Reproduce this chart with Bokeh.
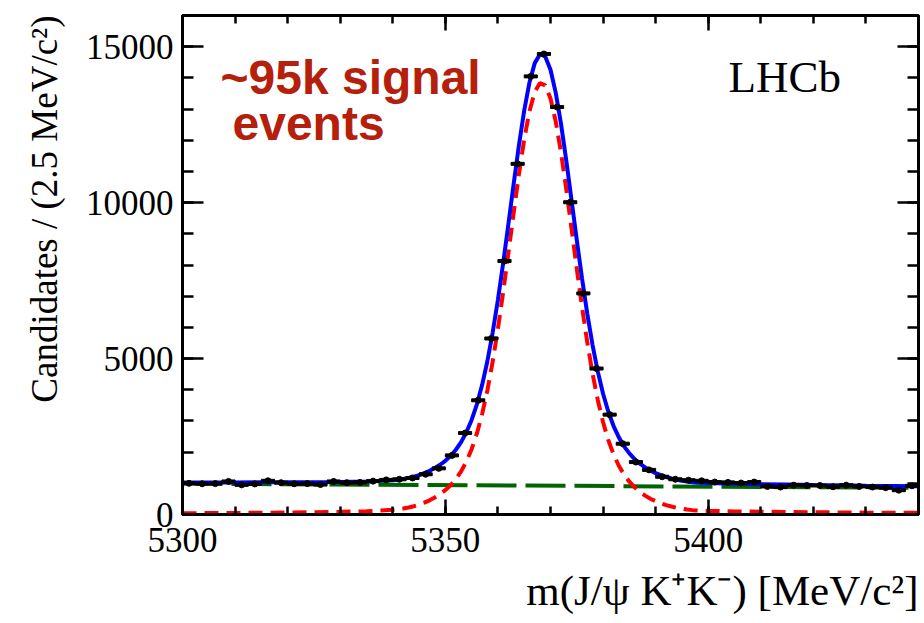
from bokeh.plotting import figure
from bokeh.models import (Range1d, LinearAxis, SingleIntervalTicker, Label, Title,
                          CustomLabelingPolicy)
from bokeh.embed import file_html
from bokeh.resources import INLINE

# ---------------- data ----------------
bin_centers = [5301.25, 5303.75, 5306.25, 5308.75, 5311.25, 5313.75, 5316.25, 5318.75,
               5321.25, 5323.75, 5326.25, 5328.75, 5331.25, 5333.75, 5336.25, 5338.75,
               5341.25, 5343.75, 5346.25, 5348.75, 5351.25, 5353.75, 5356.25, 5358.75,
               5361.25, 5363.75, 5366.25, 5368.75, 5371.25, 5373.75, 5376.25, 5378.75,
               5381.25, 5383.75, 5386.25, 5388.75, 5391.25, 5393.75, 5396.25, 5398.75,
               5401.25, 5403.75, 5406.25, 5408.75, 5411.25, 5413.75, 5416.25, 5418.75,
               5421.25, 5423.75, 5426.25, 5428.75, 5431.25, 5433.75, 5436.25, 5438.75]
counts = [1000, 985, 990, 1060, 950, 980, 1080, 1020,
          985, 990, 960, 1060, 1020, 1030, 1070, 1110,
          1130, 1170, 1290, 1480, 1895, 2612, 3662, 5644,
          8127, 11243, 14048, 14767, 13065, 10013, 7089, 4680,
          3202, 2270, 1681, 1430, 1210, 1130, 1100, 1080,
          1040, 1030, 1010, 1040, 900, 880, 940, 930,
          930, 890, 940, 900, 880, 860, 780, 920]

fit_mass = [5300, 5305, 5310, 5315, 5320, 5325, 5330, 5335,
            5340, 5341, 5342, 5343, 5344, 5345, 5346, 5347, 5348, 5349,
            5350, 5351, 5352, 5353, 5354, 5355, 5356, 5357, 5358, 5359,
            5360, 5361, 5362, 5363, 5364, 5365, 5366, 5367, 5368, 5369,
            5370, 5371, 5372, 5373, 5374, 5375, 5376, 5377, 5378, 5379,
            5380, 5381, 5382, 5383, 5384, 5385, 5386, 5387, 5388, 5389,
            5390, 5391, 5392, 5393, 5394, 5395, 5396, 5397, 5398,
            5400, 5405, 5410, 5415, 5420, 5425, 5430, 5435, 5440]
fit_signal = [40, 45, 50, 55, 62, 72, 85, 105,
              150, 165, 190, 225, 265, 315, 380, 455, 545, 652,
              780, 940, 1136, 1383, 1697, 2095, 2598, 3223, 3988, 4901,
              5955, 7132, 8391, 9678, 10917, 12027, 12928, 13548, 13834, 13761,
              13338, 12598, 11604, 10432, 9165, 7881, 6649, 5517, 4519, 3666,
              2958, 2383, 1925, 1563, 1277, 1051, 870, 723, 605, 505,
              425, 360, 300, 255, 215, 185, 160, 140, 125,
              115, 100, 88, 80, 72, 66, 60, 56, 52]
fit_total = [1030, 1030, 1030, 1031, 1033, 1038, 1046, 1061,
             1101, 1115, 1140, 1174, 1213, 1262, 1326, 1400, 1489, 1595,
             1722, 1881, 2076, 2322, 2635, 3032, 3534, 4158, 4922, 5834,
             6887, 8063, 9321, 10607, 11845, 12954, 13854, 14473, 14758, 14684,
             14261, 13520, 12525, 11352, 10084, 8799, 7566, 6433, 5434, 4580,
             3871, 3295, 2836, 2473, 2186, 1959, 1777, 1629, 1510, 1409,
             1328, 1262, 1201, 1155, 1114, 1083, 1057, 1036, 1020,
             1009, 989, 972, 959, 946, 936, 925, 916, 907]
bkg_mass = [5300, 5440]
bkg_values = [990, 855]

x_ticks_major = 50
y_ticks_major = 5000

SERIF = "Liberation Serif"

p = figure(width=924, height=623, output_backend="svg", toolbar_location=None,
           x_range=Range1d(5300, 5440), y_range=Range1d(0, 16000),
           x_axis_type=None, y_axis_type=None,
           min_border_left=182, min_border_right=6, min_border_top=15, min_border_bottom=109)
p.background_fill_color = "white"
p.border_fill_color = "white"
p.outline_line_color = "black"
p.outline_line_width = 3


def make_axis(ticker, major_in, minor_in, labels, standoff):
    ax = LinearAxis(ticker=ticker)
    ax.axis_line_width = 3
    ax.axis_line_color = "black"
    ax.major_tick_in = major_in
    ax.major_tick_out = 0
    ax.minor_tick_in = minor_in
    ax.minor_tick_out = 0
    ax.major_tick_line_width = 2.5
    ax.minor_tick_line_width = 2.5
    ax.major_label_text_font = SERIF
    ax.major_label_text_color = "black"
    if labels:
        ax.major_label_text_font_size = "35px"
        ax.major_label_standoff = standoff
    else:
        # mirrored tick marks only: no labels drawn
        ax.major_label_text_font_size = "1px"
        ax.major_label_standoff = 0
        ax.major_label_policy = CustomLabelingPolicy(code="return new Set()")
    return ax


xt = lambda: SingleIntervalTicker(interval=x_ticks_major, num_minor_ticks=5)
yt = lambda: SingleIntervalTicker(interval=y_ticks_major, num_minor_ticks=5)

p.add_layout(make_axis(xt(), 15, 8, True, 13), "below")
p.add_layout(make_axis(xt(), 15, 8, False, 0), "above")
p.add_layout(make_axis(yt(), 21, 11, True, 9), "left")
p.add_layout(make_axis(yt(), 21, 11, False, 0), "right")

# axis titles (ROOT style: aligned to the end of the axis)
p.add_layout(Title(text="Candidates / (2.5 MeV/c²)", align="right", text_font=SERIF,
                   text_font_size="37px", text_font_style="normal", text_color="black",
                   standoff=35), "left")
p.add_layout(Title(text="m(J/ψ K⁺K⁻) [MeV/c²]", align="right", text_font=SERIF,
                   text_font_size="43px", text_font_style="normal", text_color="black",
                   standoff=20), "below")

# curves
p.line(bkg_mass, bkg_values, line_color="#006400", line_width=4, line_dash="40 9")
p.line(fit_mass, fit_signal, line_color="#FF0000", line_width=4, line_dash="14 8")
p.line(fit_mass, fit_total, line_color="#0000FF", line_width=4)

# data points
p.rect(x=bin_centers, y=counts, width=2.5, height=3, height_units="screen",
       fill_color="black", line_color="black")
p.scatter(bin_centers, counts, size=6, fill_color="black", line_color="black")

# annotations
p.add_layout(Label(x=38, y=437, x_units="screen", y_units="screen", text="~95k signal",
                   text_font="Liberation Sans", text_font_style="bold", text_font_size="48px",
                   text_color="#B5200D", text_baseline="alphabetic"))
p.add_layout(Label(x=50, y=391, x_units="screen", y_units="screen", text="events",
                   text_font="Liberation Sans", text_font_style="bold", text_font_size="48px",
                   text_color="#B5200D", text_baseline="alphabetic"))
p.add_layout(Label(x=546, y=438, x_units="screen", y_units="screen", text="LHCb",
                   text_font=SERIF, text_font_size="45px", text_color="black",
                   text_baseline="alphabetic"))

open("out.html", "w").write(file_html(p, INLINE))
